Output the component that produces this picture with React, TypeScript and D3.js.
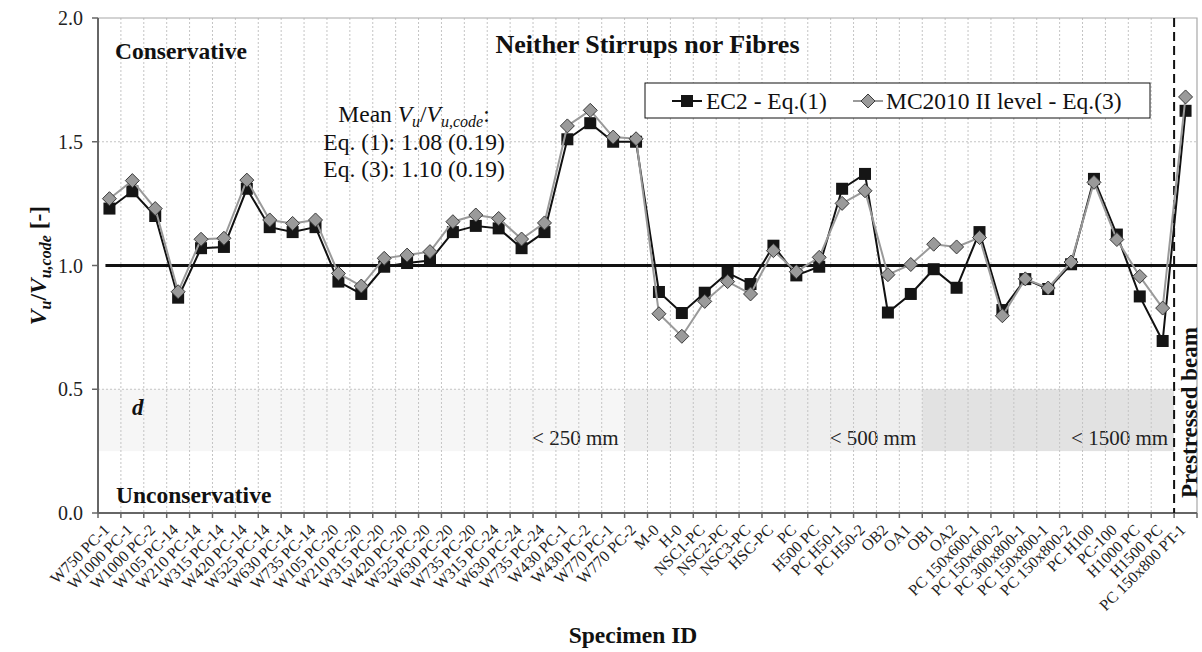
import React, { useRef, useEffect } from "react";
import * as d3 from "d3";

const specimens = [
  "W750 PC-1", "W1000 PC-1", "W1000 PC-2", "W105 PC-14", "W210 PC-14", "W315 PC-14",
  "W420 PC-14", "W525 PC-14", "W630 PC-14", "W735 PC-14", "W105 PC-20", "W210 PC-20",
  "W315 PC-20", "W420 PC-20", "W525 PC-20", "W630 PC-20", "W735 PC-20", "W315 PC-24",
  "W630 PC-24", "W735 PC-24", "W430 PC-1", "W430 PC-2", "W770 PC-1", "W770 PC-2",
  "M-0", "H-0", "NSC1-PC", "NSC2-PC", "NSC3-PC", "HSC-PC", "PC", "H500 PC",
  "PC H50-1", "PC H50-2", "OB2", "OA1", "OB1", "OA2", "PC 150x600-1", "PC 150x600-2",
  "PC 300x800-1", "PC 150x800-1", "PC 150x800-2", "PC H100", "PC-100", "H1000 PC",
  "H1500 PC", "PC 150x800 PT-1",
];

// EC2 - Eq.(1)
const ec2Values = [
  1.23, 1.3, 1.2, 0.87, 1.07, 1.075, 1.31, 1.155, 1.135, 1.155,
  0.935, 0.885, 0.995, 1.01, 1.02, 1.135, 1.16, 1.15, 1.07, 1.135,
  1.51, 1.575, 1.5, 1.5, 0.893, 0.808, 0.89, 0.97, 0.925, 1.08,
  0.96, 0.995, 1.31, 1.37, 0.81, 0.885, 0.985, 0.91, 1.135, 0.82,
  0.945, 0.905, 1.005, 1.35, 1.125, 0.875, 0.695, 1.625,
];

// MC2010 II level - Eq.(3)
const mc2010Values = [
  1.27, 1.343, 1.23, 0.894, 1.106, 1.11, 1.345, 1.184, 1.17, 1.184,
  0.968, 0.917, 1.029, 1.042, 1.056, 1.177, 1.204, 1.19, 1.107, 1.172,
  1.564, 1.627, 1.519, 1.512, 0.805, 0.714, 0.855, 0.935, 0.885, 1.06,
  0.975, 1.033, 1.251, 1.302, 0.963, 1.004, 1.086, 1.075, 1.113, 0.797,
  0.946, 0.909, 1.014, 1.336, 1.105, 0.956, 0.828, 1.681,
];

const yTicks = [0, 0.5, 1.0, 1.5, 2.0];
const yGrid = [0.5, 1.5];

// depth zones: label, first specimen of zone
const zoneLabels = ["< 250 mm", "< 500 mm", "< 1500 mm"];
const zoneStarts = ["W750 PC-1", "W770 PC-2", "OB1"];
const zoneEnd = "PC 150x800 PT-1"; // prestressed beam not in zones
const zoneRange = [0.25, 0.5];

const meanLines = ["Eq. (1): 1.08 (0.19)", "Eq. (3): 1.10 (0.19)"];

const FONT = "'Liberation Serif', 'Times New Roman', serif";

const App = () => {
  const svgRef = useRef<SVGSVGElement>(null);

  useEffect(() => {
    const width = 1202;
    const height = 652;
    const margin = { top: 18, right: 5, bottom: 139, left: 98 };

    const svg = d3.select(svgRef.current)
      .attr("width", width)
      .attr("height", height)
      .attr("viewBox", `0 0 ${width} ${height}`)
      .style("font-family", FONT);

    svg.selectAll("*").remove();

    const x = d3.scaleBand()
      .domain(specimens)
      .range([margin.left, width - margin.right]);
    const y = d3.scaleLinear()
      .domain([0, 2])
      .range([height - margin.bottom, margin.top]);

    const bw = x.bandwidth();
    const cx = (d: string) => (x(d) as number) + bw / 2;
    const left = margin.left, right = width - margin.right;
    const top = margin.top, bottom = height - margin.bottom;

    svg.append("rect").attr("width", width).attr("height", height).attr("fill", "#fff");

    // ZONES
    const zoneFills = ["#f6f6f6", "#eeeeee", "#e2e2e2"];
    const zoneX = zoneStarts.map((s) => x(s) as number).concat([x(zoneEnd) as number]);
    zoneLabels.forEach((lab, i) => {
      svg.append("rect")
        .attr("x", zoneX[i])
        .attr("width", zoneX[i + 1] - zoneX[i])
        .attr("y", y(zoneRange[1]))
        .attr("height", y(zoneRange[0]) - y(zoneRange[1]))
        .attr("fill", zoneFills[i]);
      svg.append("text")
        .attr("x", zoneX[i + 1] - 6)
        .attr("y", 445)
        .attr("text-anchor", "end")
        .attr("font-size", 21)
        .attr("fill", "#222")
        .text(lab);
    });

    // GRID
    const boundaries = specimens.slice(1).map((s) => x(s) as number);
    svg.append("g")
      .selectAll("line")
      .data(boundaries.slice(0, -1))
      .join("line")
      .attr("x1", (d) => d).attr("x2", (d) => d)
      .attr("y1", top).attr("y2", bottom)
      .attr("stroke", "#c4c4c4")
      .attr("stroke-width", 1)
      .attr("stroke-dasharray", "2,2");
    svg.append("g")
      .selectAll("line")
      .data(yGrid)
      .join("line")
      .attr("x1", left).attr("x2", right)
      .attr("y1", (d) => y(d)).attr("y2", (d) => y(d))
      .attr("stroke", "#c4c4c4")
      .attr("stroke-dasharray", "2,2");

    // frame
    svg.append("path")
      .attr("d", `M${left},${top}H${right}V${bottom}`)
      .attr("fill", "none")
      .attr("stroke", "#a8a8a8")
      .attr("stroke-width", 1.2);

    // AXES
    const yAxis = svg.append("g");
    yAxis.append("line")
      .attr("x1", left).attr("x2", left).attr("y1", top).attr("y2", bottom)
      .attr("stroke", "#666").attr("stroke-width", 2);
    yAxis.selectAll(".yt")
      .data(yTicks)
      .join("g")
      .each(function (d) {
        const g = d3.select(this);
        g.append("line")
          .attr("x1", left - 6).attr("x2", left)
          .attr("y1", y(d)).attr("y2", y(d))
          .attr("stroke", "#666").attr("stroke-width", 1.5);
        g.append("text")
          .attr("x", left - 15).attr("y", y(d))
          .attr("dy", "0.35em")
          .attr("text-anchor", "end")
          .attr("font-size", 20)
          .attr("fill", "#222")
          .text(d3.format(".1f")(d));
      });

    const xAxis = svg.append("g");
    xAxis.append("line")
      .attr("x1", left).attr("x2", right).attr("y1", bottom).attr("y2", bottom)
      .attr("stroke", "#666").attr("stroke-width", 2);
    xAxis.selectAll(".xt")
      .data([left, ...boundaries, right])
      .join("line")
      .attr("x1", (d) => d).attr("x2", (d) => d)
      .attr("y1", bottom).attr("y2", bottom + 5)
      .attr("stroke", "#666").attr("stroke-width", 1.5);
    xAxis.selectAll(".xl")
      .data(specimens)
      .join("text")
      .attr("transform", (d) => `translate(${cx(d) - 3},${bottom + 14}) rotate(-45)`)
      .attr("dy", "0.35em")
      .attr("text-anchor", "end")
      .attr("font-size", 16)
      .attr("fill", "#222")
      .text((d) => d);

    // prestressed separator
    const sep = x(zoneEnd) as number;
    svg.append("line")
      .attr("x1", sep).attr("x2", sep).attr("y1", top).attr("y2", bottom)
      .attr("stroke", "#111").attr("stroke-width", 2)
      .attr("stroke-dasharray", "9,5");
    svg.append("text")
      .attr("transform", `translate(${right},${498}) rotate(-90)`)
      .attr("font-size", 23)
      .attr("font-weight", "bold")
      .attr("fill", "#111")
      .text("Prestressed beam");

    // reference line at 1.0
    svg.append("line")
      .attr("x1", cx(specimens[0]) - 4).attr("x2", right)
      .attr("y1", y(1)).attr("y2", y(1))
      .attr("stroke", "#111").attr("stroke-width", 3);

    // SERIES
    const pts = (vals: number[]) => specimens.map((s, i) => [cx(s), y(vals[i])] as [number, number]);
    const line = d3.line();
    const sq = 12;
    const dia = 7;
    const diamondPath = (px: number, py: number) =>
      `M${px},${py - dia}L${px + dia},${py}L${px},${py + dia}L${px - dia},${py}Z`;

    const ec2 = pts(ec2Values);
    svg.append("path")
      .attr("d", line(ec2))
      .attr("fill", "none").attr("stroke", "#111").attr("stroke-width", 2);
    svg.append("g")
      .selectAll("rect")
      .data(ec2)
      .join("rect")
      .attr("x", (d) => d[0] - sq / 2).attr("y", (d) => d[1] - sq / 2)
      .attr("width", sq).attr("height", sq)
      .attr("fill", "#151515");

    const mc = pts(mc2010Values);
    svg.append("path")
      .attr("d", line(mc))
      .attr("fill", "none").attr("stroke", "#9a9a9a").attr("stroke-width", 2);
    svg.append("g")
      .selectAll("path")
      .data(mc)
      .join("path")
      .attr("d", (d) => diamondPath(d[0], d[1]))
      .attr("fill", "#9a9a9a").attr("stroke", "#3a3a3a").attr("stroke-width", 1);

    // LEGEND
    const lg = svg.append("g");
    lg.append("rect")
      .attr("x", 645).attr("y", 83).attr("width", 505).attr("height", 35)
      .attr("fill", "#fff").attr("stroke", "#111").attr("stroke-width", 1);
    lg.append("line").attr("x1", 672).attr("x2", 702).attr("y1", 101).attr("y2", 101)
      .attr("stroke", "#111").attr("stroke-width", 2);
    lg.append("rect").attr("x", 687 - sq / 2).attr("y", 101 - sq / 2)
      .attr("width", sq).attr("height", sq).attr("fill", "#151515");
    lg.append("text").attr("x", 706).attr("y", 109).attr("font-size", 23.5).attr("fill", "#111")
      .text("EC2 - Eq.(1)");
    lg.append("line").attr("x1", 853).attr("x2", 883).attr("y1", 101).attr("y2", 101)
      .attr("stroke", "#9a9a9a").attr("stroke-width", 2);
    lg.append("path").attr("d", diamondPath(868, 101))
      .attr("fill", "#9a9a9a").attr("stroke", "#3a3a3a");
    lg.append("text").attr("x", 886).attr("y", 109).attr("font-size", 23.5).attr("fill", "#111")
      .text("MC2010 II level - Eq.(3)");

    // TITLE + ANNOTATIONS
    svg.append("text")
      .attr("x", (left + right) / 2).attr("y", 53)
      .attr("text-anchor", "middle")
      .attr("font-size", 26).attr("font-weight", "bold").attr("fill", "#111")
      .text("Neither Stirrups nor Fibres");
    svg.append("text")
      .attr("x", 115).attr("y", 59)
      .attr("font-size", 23.5).attr("font-weight", "bold").attr("fill", "#111")
      .text("Conservative");
    svg.append("text")
      .attr("x", 116).attr("y", 503)
      .attr("font-size", 23.5).attr("font-weight", "bold").attr("fill", "#111")
      .text("Unconservative");
    svg.append("text")
      .attr("x", 132).attr("y", 415)
      .attr("font-size", 23).attr("font-weight", "bold").attr("font-style", "italic").attr("fill", "#111")
      .text("d");

    const mean = svg.append("text")
      .attr("x", 414).attr("y", 122)
      .attr("text-anchor", "middle")
      .attr("font-size", 23.5).attr("fill", "#111");
    mean.append("tspan").text("Mean ");
    mean.append("tspan").attr("font-style", "italic").text("V");
    mean.append("tspan").attr("font-style", "italic").attr("font-size", 16).attr("dy", 5).text("u");
    mean.append("tspan").attr("dy", -5).text("/");
    mean.append("tspan").attr("font-style", "italic").text("V");
    mean.append("tspan").attr("font-style", "italic").attr("font-size", 16).attr("dy", 5).text("u,code");
    mean.append("tspan").attr("dy", -5).text(":");
    meanLines.forEach((t, i) => {
      svg.append("text")
        .attr("x", 414).attr("y", 150 + i * 27)
        .attr("text-anchor", "middle")
        .attr("font-size", 23.5).attr("fill", "#111")
        .text(t);
    });

    // AXIS TITLES
    svg.append("text")
      .attr("x", 633).attr("y", 643)
      .attr("text-anchor", "middle")
      .attr("font-size", 23.5).attr("font-weight", "bold").attr("fill", "#111")
      .text("Specimen ID");

    const yl = svg.append("text")
      .attr("transform", `translate(46,${(top + bottom) / 2}) rotate(-90)`)
      .attr("text-anchor", "middle")
      .attr("font-size", 23.5).attr("font-weight", "bold").attr("fill", "#111");
    yl.append("tspan").attr("font-style", "italic").text("V");
    yl.append("tspan").attr("font-style", "italic").attr("font-size", 16).attr("dy", 5).text("u");
    yl.append("tspan").attr("dy", -5).text("/");
    yl.append("tspan").attr("font-style", "italic").text("V");
    yl.append("tspan").attr("font-style", "italic").attr("font-size", 16).attr("dy", 5).text("u,code");
    yl.append("tspan").attr("dy", -5).text(" [-]");
  }, []);

  return (
    <div style={{ position: "absolute", left: 0, top: 0 }}>
      <svg ref={svgRef}></svg>
    </div>
  );
};

export default App;
